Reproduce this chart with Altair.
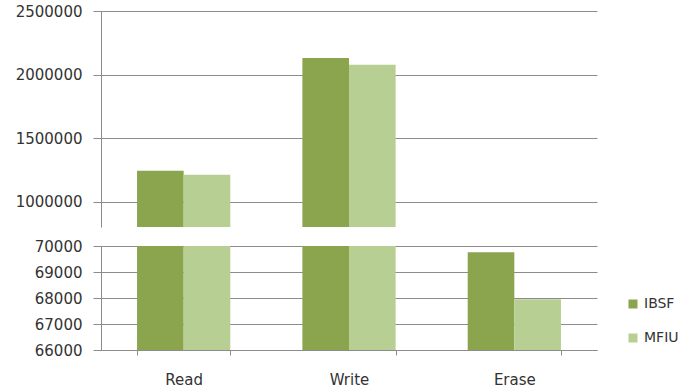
import altair as alt
import pandas as pd

categories = ["Read", "Write", "Erase"]
series = ["IBSF", "MFIU"]
ibsf = [1243000, 2131000, 69760]
mfiu = [1212000, 2076000, 67950]
colors = ["#8aa54e", "#b7cf93"]

top_ticks = [1000000, 1500000, 2000000, 2500000]
bottom_ticks = [66000, 67000, 68000, 69000, 70000]

rows = []
for i, c in enumerate(categories):
    rows.append({"op": c, "series": "IBSF", "value": ibsf[i]})
    rows.append({"op": c, "series": "MFIU", "value": mfiu[i]})
df = pd.DataFrame(rows)

GRAY = "#8c8c8c"
FONT = "DejaVu Sans"

xscale = alt.Scale(paddingInner=0.436, paddingOuter=0.218)
offscale = alt.Scale(paddingInner=0, paddingOuter=0)
color = alt.Color("series:N", sort=series,
                  scale=alt.Scale(domain=series, range=colors),
                  legend=alt.Legend(title=None, orient="none", legendX=525, legendY=286,
                                    symbolType="square", symbolSize=81,
                                    symbolStrokeWidth=0, labelFontSize=14,
                                    labelFont=FONT, labelColor="#333333",
                                    rowPadding=20, labelOffset=4))

def yaxis(vals):
    return alt.Axis(values=vals, format="d", title=None, grid=True,
                    gridColor=GRAY, domainColor=GRAY, tickColor=GRAY,
                    tickSize=8, labelPadding=11, labelFontSize=15, labelFont=FONT,
                    labelColor="#333333", minExtent=100, maxExtent=100)

top = alt.Chart(df).mark_bar(clip=True).encode(
    x=alt.X("op:N", sort=categories, scale=xscale, axis=None),
    xOffset=alt.XOffset("series:N", sort=series, scale=offscale),
    y=alt.Y("value:Q", scale=alt.Scale(domain=[800000, 2500000], nice=False, zero=False),
            axis=yaxis(top_ticks)),
    color=color,
).properties(width=496, height=216)

bottom = alt.Chart(df).mark_bar(clip=True).encode(
    x=alt.X("op:N", sort=categories, scale=xscale,
            axis=alt.Axis(title=None, labelAngle=0, tickBand="extent", domainColor=GRAY,
                          tickColor=GRAY, tickSize=5, labelPadding=17, labelFontSize=15,
                          labelFont=FONT, labelColor="#333333")),
    xOffset=alt.XOffset("series:N", sort=series, scale=offscale),
    y=alt.Y("value:Q", scale=alt.Scale(domain=[66000, 70000], nice=False, zero=False),
            axis=yaxis(bottom_ticks)),
    color=color,
).properties(width=496, height=104)

chart = alt.vconcat(top, bottom, spacing=12).properties(
    padding={"left": 1, "top": 4, "right": 0, "bottom": 0},
).configure(
    background="white",
    view=alt.ViewConfig(strokeWidth=0, stroke="transparent"),
)

chart.save("out.html", embed_options={"renderer": "svg", "actions": False})
